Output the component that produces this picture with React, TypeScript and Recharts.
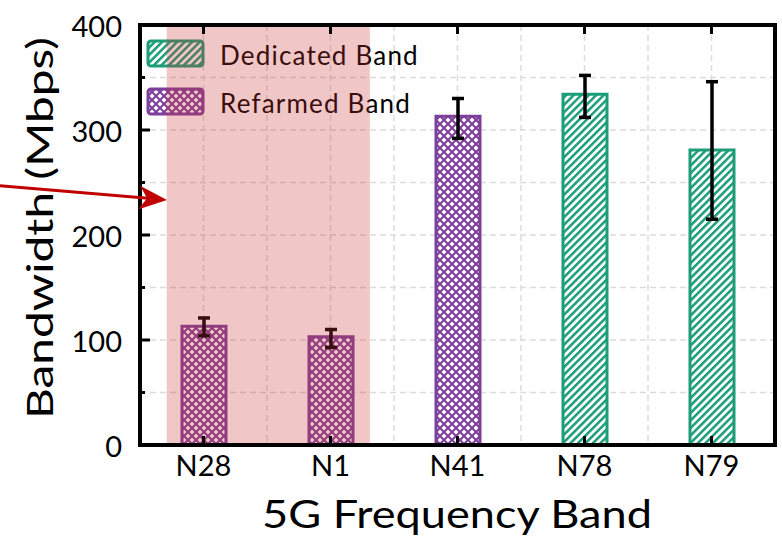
import { BarChart, Bar, Cell, ErrorBar, XAxis, YAxis, CartesianGrid, ReferenceArea, Label } from "recharts";

const bands = ["N28", "N1", "N41", "N78", "N79"];
const bandKind = ["refarmed", "refarmed", "refarmed", "dedicated", "dedicated"];
const bandwidth = [113, 103, 313, 334, 281];
const errLow = [9, 10, 21, 22, 66];
const errHigh = [8, 7, 17, 18, 65];
const yTicks = [0, 50, 100, 150, 200, 250, 300, 350, 400];
const gridX = [0, 0.5, 1, 1.5, 2, 2.5, 3, 3.5, 4];
const xDomain = [-0.5, 4.5];

const GREEN = "#1b9e77";
const PURPLE = "#7d3f9b";
const FONT = "Lato, 'Open Sans', sans-serif";

const legendItems = [
  { name: "Dedicated Band", color: GREEN, fill: "url(#hatchGreen)" },
  { name: "Refarmed Band", color: PURPLE, fill: "url(#crossPurple)" },
];

const data = bands.map((band, i) => ({
  x: i,
  band,
  kind: bandKind[i],
  value: bandwidth[i],
  err: [errLow[i], errHigh[i]],
}));

const LeftTick = (props: any) => {
  const { x, y, payload } = props;
  const major = payload.value % 100 === 0;
  return (
    <g>
      <line x1={x} x2={x + (major ? 10 : 5)} y1={y} y2={y} stroke="#000" strokeWidth={3} />
      {major && (
        <text x={x - 18} y={y} textAnchor="end" dominantBaseline="central" fontSize={29} fontFamily={FONT} fill="#000">
          {payload.value}
        </text>
      )}
    </g>
  );
};

const RightTick = (props: any) => {
  const { x, y, payload } = props;
  const major = payload.value % 100 === 0;
  return <line x1={x} x2={x - (major ? 10 : 5)} y1={y} y2={y} stroke="#000" strokeWidth={3} />;
};

const TopTick = (props: any) => {
  const { x, y } = props;
  return <line x1={x} x2={x} y1={y} y2={y + 9} stroke="#000" strokeWidth={3} />;
};

const BottomTick = (props: any) => {
  const { x, y, payload } = props;
  return (
    <g>
      <line x1={x} x2={x} y1={y} y2={y - 9} stroke="#000" strokeWidth={3} />
      <text x={x} y={y + 31} textAnchor="middle" fontSize={29} fontFamily={FONT} fill="#000">
        {bands[payload.value]}
      </text>
    </g>
  );
};

const SvgLegend = () => (
  <g>
    {legendItems.map((it, i) => (
      <g key={it.name}>
        <rect x={148} y={41 + i * 48} width={55} height={25} rx={3} fill={it.fill} stroke={it.color} strokeWidth={3} />
        <text x={220} y={65 + i * 48} fontSize={26} letterSpacing={1.2} fontFamily={FONT} fill="#000">
          {it.name}
        </text>
      </g>
    ))}
  </g>
);

export default function App() {
  return (
    <div style={{ position: "absolute", left: 0, top: 0, width: 782, height: 547, background: "#fff" }}>
      <BarChart width={782} height={547} data={data} margin={{ top: 20, right: 2, bottom: 42, left: 80 }}>
        <defs>
          <pattern id="hatchGreen" patternUnits="userSpaceOnUse" width={5.3} height={5.3} patternTransform="rotate(45)">
            <rect width={5.3} height={5.3} fill="#fff" />
            <rect x={0} y={0} width={2.5} height={5.3} fill={GREEN} />
          </pattern>
          <pattern id="crossPurple" patternUnits="userSpaceOnUse" width={8} height={8}>
            <rect width={8} height={8} fill={PURPLE} />
            <polygon points="4,1.5 6.5,4 4,6.5 1.5,4" fill="#fff" />
            <polygon points="0,-2.5 2.5,0 0,2.5 -2.5,0" fill="#fff" />
            <polygon points="8,-2.5 10.5,0 8,2.5 5.5,0" fill="#fff" />
            <polygon points="0,5.5 2.5,8 0,10.5 -2.5,8" fill="#fff" />
            <polygon points="8,5.5 10.5,8 8,10.5 5.5,8" fill="#fff" />
          </pattern>
        </defs>
        <CartesianGrid
          stroke="#dcdcdc"
          strokeWidth={1.5}
          strokeDasharray="6 4"
          verticalCoordinatesGenerator={({ xAxis, offset }: any) =>
            gridX.map((v) =>
              xAxis && typeof xAxis.scale === "function"
                ? xAxis.scale(v)
                : offset.left + ((v - xDomain[0]) / (xDomain[1] - xDomain[0])) * offset.width
            )
          }
        />
        <Bar dataKey="value" barSize={44} strokeWidth={3} isAnimationActive={false}>
          {data.map((d) => (
            <Cell
              key={d.band}
              fill={d.kind === "dedicated" ? "url(#hatchGreen)" : "url(#crossPurple)"}
              stroke={d.kind === "dedicated" ? GREEN : PURPLE}
            />
          ))}
          <ErrorBar dataKey="err" width={6} stroke="#000" strokeWidth={3.5} direction="y" isAnimationActive={false} />
        </Bar>
        <SvgLegend />
        <ReferenceArea
          x1={-0.29}
          x2={1.31}
          y1={0}
          y2={400}
          fill="#c83232"
          fillOpacity={0.28}
          stroke="none"
          zIndex={450}
        />
        <XAxis
          dataKey="x"
          type="number"
          domain={xDomain}
          ticks={[0, 1, 2, 3, 4]}
          height={60}
          tickSize={0}
          tickMargin={0}
          tickLine={false}
          interval={0}
          axisLine={{ stroke: "#000", strokeWidth: 4, strokeLinecap: "square" }}
          tick={<BottomTick />}
        >
          <Label
            content={() => (
              <text
                x={457}
                y={528}
                textAnchor="middle"
                fontSize={38}
                textLength={390}
                lengthAdjust="spacingAndGlyphs"
                fontFamily={FONT}
                fill="#000"
              >
                5G Frequency Band
              </text>
            )}
          />
        </XAxis>
        <XAxis
          xAxisId="top"
          orientation="top"
          dataKey="x"
          type="number"
          domain={xDomain}
          ticks={[0, 1, 2, 3, 4]}
          height={5}
          tickSize={0}
          tickMargin={0}
          tickLine={false}
          interval={0}
          axisLine={{ stroke: "#000", strokeWidth: 4, strokeLinecap: "square" }}
          tick={<TopTick />}
        />
        <YAxis
          domain={[0, 400]}
          ticks={yTicks}
          width={60}
          tickSize={0}
          tickMargin={0}
          tickLine={false}
          interval={0}
          axisLine={{ stroke: "#000", strokeWidth: 4, strokeLinecap: "square" }}
          tick={<LeftTick />}
        >
          <Label
            content={() => (
              <text
                x={53}
                y={228}
                transform="rotate(-90 53 228)"
                textAnchor="middle"
                fontSize={37}
                textLength={382}
                lengthAdjust="spacingAndGlyphs"
                fontFamily={FONT}
                fill="#000"
              >
                Bandwidth (Mbps)
              </text>
            )}
          />
        </YAxis>
        <YAxis
          yAxisId="right"
          orientation="right"
          domain={[0, 400]}
          ticks={yTicks}
          width={5}
          tickSize={0}
          tickMargin={0}
          tickLine={false}
          interval={0}
          axisLine={{ stroke: "#000", strokeWidth: 4, strokeLinecap: "square" }}
          tick={<RightTick />}
        />
      </BarChart>
      <svg width={782} height={547} style={{ position: "absolute", left: 0, top: 0, pointerEvents: "none" }}>
        <line x1={-2} y1={185.5} x2={148} y2={198.2} stroke="#c00000" strokeWidth={3} />
        <polygon points="167,200 138.1,209.6 147.1,198.3 140.1,185.7" fill="#c00000" />
      </svg>
    </div>
  );
}
